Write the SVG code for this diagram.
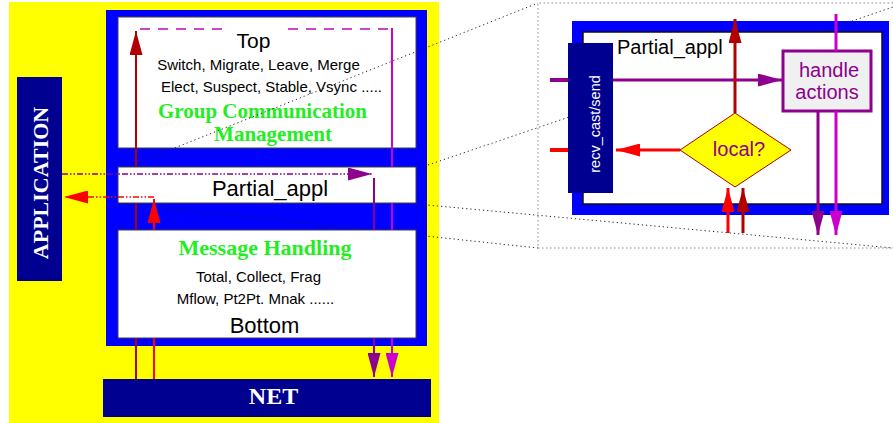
<svg xmlns="http://www.w3.org/2000/svg" width="893" height="423" viewBox="0 0 893 423">
<style>
.box{fill:#ffffff;stroke:#404040;stroke-width:1}
.sans{font-family:"Liberation Sans",Arial,sans-serif}
.serifb{font-family:"Liberation Serif","Times New Roman",serif;font-weight:bold}
.green{fill:#22ee22}
.dot{fill:none;stroke:#222;stroke-width:1;stroke-dasharray:1.2 3}
.frame{fill:none;stroke:#888;stroke-width:1;stroke-dasharray:1.5 2.5}
</style>
<defs>
<marker id="aDR" viewBox="0 0 24 13" refX="24" refY="6.5" markerWidth="24" markerHeight="13" markerUnits="userSpaceOnUse" orient="auto"><path d="M0,0 L24,6.5 L0,13 z" fill="#b00000"/></marker>
<marker id="aR" viewBox="0 0 24 13" refX="24" refY="6.5" markerWidth="24" markerHeight="13" markerUnits="userSpaceOnUse" orient="auto"><path d="M0,0 L24,6.5 L0,13 z" fill="#ff0000"/></marker>
<marker id="aP" viewBox="0 0 24 13" refX="24" refY="6.5" markerWidth="24" markerHeight="13" markerUnits="userSpaceOnUse" orient="auto"><path d="M0,0 L24,6.5 L0,13 z" fill="#8e008e"/></marker>
<marker id="aM" viewBox="0 0 24 13" refX="24" refY="6.5" markerWidth="24" markerHeight="13" markerUnits="userSpaceOnUse" orient="auto"><path d="M0,0 L24,6.5 L0,13 z" fill="#cc00cc"/></marker>
</defs>
<rect width="893" height="423" fill="#ffffff"/>
<g id="stack-background">
<rect x="9" y="2" width="430" height="421" fill="#ffff00"/>
<rect x="106" y="10" width="321" height="336" fill="#0000ff"/>
</g>
<g id="application">
<rect x="17" y="77" width="45" height="204" fill="#000090"/>
<text transform="translate(48,183) rotate(-90)" text-anchor="middle" class="serifb" font-size="22" fill="#ffffff">APPLICATION</text>
</g>
<g id="net">
<rect x="103" y="379" width="328" height="38" fill="#000090"/>
<text x="273.5" y="404" text-anchor="middle" class="serifb" font-size="24" fill="#ffffff">NET</text>
</g>
<g id="group-communication">
<rect class="box" x="118" y="17" width="298" height="131"/>
<text x="253.5" y="48" text-anchor="middle" class="sans" font-size="21">Top</text>
<text x="258.5" y="70" text-anchor="middle" class="sans" font-size="15">Switch, Migrate, Leave, Merge</text>
<text x="271.5" y="92" text-anchor="middle" class="sans" font-size="15">Elect, Suspect, Stable, Vsync .....</text>
<text x="262.5" y="117.5" text-anchor="middle" class="serifb green" font-size="21">Group Communication</text>
<text x="273" y="141" text-anchor="middle" class="serifb green" font-size="21">Management</text>
</g>
<g id="partial-appl">
<rect class="box" x="118" y="167" width="298" height="36"/>
<text x="270" y="196" text-anchor="middle" class="sans" font-size="22">Partial_appl</text>
</g>
<g id="message-handling">
<rect class="box" x="118" y="230" width="298" height="108"/>
<text x="265" y="255" text-anchor="middle" class="serifb green" font-size="22">Message Handling</text>
<text x="258.5" y="282" text-anchor="middle" class="sans" font-size="15">Total, Collect, Frag</text>
<text x="255.5" y="304" text-anchor="middle" class="sans" font-size="15">Mflow, Pt2Pt. Mnak ......</text>
<text x="264.5" y="333" text-anchor="middle" class="sans" font-size="22">Bottom</text>
</g>
<g id="zoom-panel">
<path class="frame" d="M893,3 H538 V248 H893"/>
<rect x="572" y="21" width="317" height="194" fill="#0000ff"/>
<rect x="583" y="32" width="299" height="172" fill="#ffffff" stroke="#111" stroke-width="1.5"/>
<text x="617" y="54" class="sans" font-size="20">Partial_appl</text>
</g>
<g id="recv-cast-send">
<rect x="568" y="43" width="45" height="150" fill="#000090"/>
<text transform="translate(600,124) rotate(-90)" text-anchor="middle" class="sans" font-size="14.5" fill="#ffffff">recv_cast/send</text>
</g>
<g id="local-decision">
<path d="M680,150 L735,113 L791,150 L735,187 z" fill="#ffff00" stroke="#aa0000" stroke-width="1"/>
<text x="739" y="156" text-anchor="middle" class="sans" font-size="20" fill="#8e008e">local?</text>
</g>
<g id="handle-actions">
<rect x="783" y="51" width="88" height="60" fill="#f0f0f0" stroke="#8e008e" stroke-width="3"/>
<text x="829" y="77" text-anchor="middle" class="sans" font-size="20" fill="#8e008e">handle</text>
<text x="827" y="99" text-anchor="middle" class="sans" font-size="20" fill="#8e008e">actions</text>
</g>
<g id="connectors" fill="none">
<path class="dot" d="M132,165 L538,3"/>
<path class="dot" d="M416,169 L568,117.4 M820,32 L893,7"/>
<path class="dot" d="M118,203 L362,229"/>
<path class="dot" d="M416,235 L538,248"/>
<path class="dot" d="M416,204 L893,248"/>
<path d="M140,29 H222 M288,29 H388" stroke="#cc44cc" stroke-width="2" stroke-dasharray="10 8"/>
<path d="M136,379 V338 M136,230 V203 M136,167 V31" stroke="#b00000" stroke-width="2" marker-end="url(#aDR)"/>
<path d="M154,379 V338 M154,230 V199" stroke="#ff0000" stroke-width="2" marker-end="url(#aR)"/>
<path d="M392,28 V167 M392,203 V230 M392,338 V377" stroke="#cc00cc" stroke-width="2" marker-end="url(#aM)"/>
<path d="M374,178 V230 M374,338 V377" stroke="#8e008e" stroke-width="2" marker-end="url(#aP)"/>
<path d="M62,174 H372" stroke="#8e008e" stroke-width="1.5" stroke-dasharray="6 2 1.5 2 1.5 2" marker-end="url(#aP)"/>
<path d="M154,197 H64" stroke="#ff0000" stroke-width="1.5" stroke-dasharray="6 2 1.5 2 1.5 2" marker-end="url(#aR)"/>
<path d="M550,80 H568" stroke="#8e008e" stroke-width="4"/>
<path d="M613,80 H782" stroke="#8e008e" stroke-width="3" marker-end="url(#aP)"/>
<path d="M550,150 H568" stroke="#ff0000" stroke-width="4"/>
<path d="M680,150 H616" stroke="#ff0000" stroke-width="3" marker-end="url(#aR)"/>
<path d="M735,113 V19" stroke="#b00000" stroke-width="3" marker-end="url(#aDR)"/>
<path d="M836,14 V51 M836,111 V235" stroke="#cc00cc" stroke-width="3" marker-end="url(#aM)"/>
<path d="M818,111 V235" stroke="#8e008e" stroke-width="3" marker-end="url(#aP)"/>
<path d="M728,233 V188" stroke="#ff0000" stroke-width="3" marker-end="url(#aR)"/>
<path d="M743,233 V188" stroke="#b00000" stroke-width="3" marker-end="url(#aDR)"/>
</g>
</svg>
